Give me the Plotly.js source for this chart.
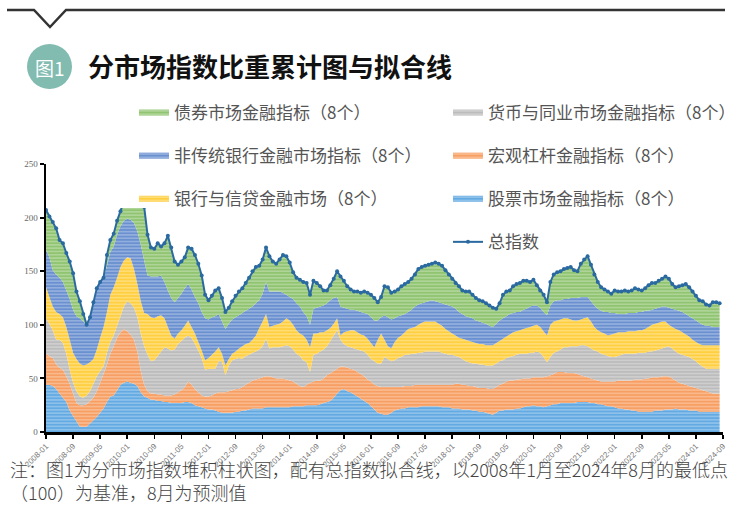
<!DOCTYPE html>
<html><head><meta charset="utf-8">
<script src="https://cdn.plot.ly/plotly-3.0.1.min.js"></script>
<style>html,body{margin:0;padding:0;background:#fff;}#chart{width:745px;height:516px;}</style>
</head><body><div id="chart"></div>
<script>
const tickLabels = ['2008-01','2008-09','2009-05','2010-01','2010-09','2011-05','2012-01','2012-09','2013-05','2014-01','2014-09','2015-05','2016-01','2016-09','2017-05','2018-01','2018-09','2019-05','2020-01','2020-09','2021-05','2022-01','2022-09','2023-05','2024-01','2024-09'];

const seriesNames = {
  stock: '股票市场金融指标（8个）',
  macro: '宏观杠杆金融指标（8个）',
  money: '货币与同业市场金融指标（8个）',
  bank: '银行与信贷金融市场（8个）',
  nonbank: '非传统银行金融市场指标（8个）',
  bond: '债券市场金融指标（8个）',
  total: '总指数'
};

const stock = [44,44,43,40,36,32,28,20,15,10,5,5,5,8,11,14,18,22,28,33,34,39,44,46,47,46,45,43,37,33,32,30,30,29,29,28,28,27,27,27,27,28,28,27,25,24,23,22,21,21,20,19,18,18,18,18,19,19,20,20,21,22,22,22,22,23,23,23,23,23,23,23,23,24,24,24,24,25,25,25,25,26,27,28,29,32,36,39,40,38,37,35,33,31,29,27,24,21,18,17,16,16,18,20,21,22,22,23,23,23,23,24,24,24,24,24,24,23,23,23,22,22,22,21,21,21,20,20,19,19,18,17,16,18,20,20,21,21,21,22,22,23,24,24,25,24,24,23,24,25,26,26,27,27,27,27,27,28,28,28,28,27,27,26,26,25,24,24,23,22,22,21,21,20,20,19,19,19,19,19,20,20,20,21,21,21,22,21,21,21,20,20,20,19,19,19,19,19,19,19];
const macro = [29,27,26,23,24,26,24,25,21,17,20,20,21,21,21,24,28,32,35,40,46,49,49,50,47,45,41,32,20,11,6,6,6,6,6,6,6,7,8,10,12,14,19,17,15,13,11,11,12,13,16,18,19,19,20,21,21,21,22,24,25,26,27,28,29,29,29,28,27,27,27,26,25,23,21,19,18,19,21,22,23,22,23,25,26,25,23,22,21,22,22,23,23,23,23,22,23,23,25,25,26,26,24,22,21,20,21,20,20,21,21,20,20,20,20,20,20,21,21,21,22,23,23,23,23,22,23,22,22,22,23,23,24,24,24,25,26,27,27,27,27,27,26,26,26,27,27,28,28,28,28,30,29,29,28,28,28,26,25,24,23,23,22,22,21,22,23,23,24,26,26,27,27,28,29,30,30,31,31,32,31,31,32,31,31,29,26,25,24,23,23,22,21,21,20,19,18,17,17,17];
const money = [33,30,26,23,26,25,21,13,10,11,8,7,8,9,13,14,11,7,11,11,10,11,15,21,28,29,30,32,35,36,34,30,31,36,40,45,44,42,42,45,46,46,43,44,42,39,35,25,26,25,23,29,29,16,24,28,28,29,26,27,26,26,26,27,29,35,26,28,29,29,30,32,32,30,28,28,25,21,10,25,25,27,27,27,30,33,36,25,21,20,20,20,21,22,23,23,21,22,21,22,28,26,24,25,27,28,29,29,30,29,30,30,31,31,31,31,31,30,29,28,28,26,25,24,22,22,21,22,22,22,21,22,22,22,22,22,22,22,23,23,24,23,23,24,23,24,23,19,13,17,20,19,21,23,24,25,25,26,28,29,29,28,27,27,26,25,24,23,23,23,24,25,25,25,24,25,25,24,25,24,25,26,26,27,28,28,27,27,27,27,27,26,25,23,22,21,22,23,23,23];
const bank = [29,25,22,26,24,24,25,28,28,30,31,30,29,27,23,25,31,37,38,44,45,45,46,43,41,42,36,31,30,31,38,41,39,37,34,27,20,14,10,10,10,11,14,10,10,8,7,9,10,13,16,13,7,9,6,6,7,9,12,11,11,12,15,20,23,23,20,20,21,22,23,25,24,23,22,21,23,21,23,20,19,18,16,15,12,11,11,4,11,14,16,17,16,15,15,15,15,13,22,28,16,12,12,17,19,20,21,24,24,25,26,28,28,28,28,28,26,25,23,22,20,19,18,19,20,20,20,19,19,19,19,19,19,19,19,20,20,21,22,22,22,23,24,24,25,25,24,24,25,30,29,29,28,27,27,25,24,24,24,25,27,25,22,20,20,20,19,21,22,22,21,20,21,21,21,21,21,22,23,25,25,25,25,24,20,20,21,22,21,20,19,18,18,19,20,22,22,22,22,22];
const nonbank = [35,37,34,35,34,33,34,38,40,40,42,41,37,42,50,55,52,45,43,40,38,40,38,37,36,36,43,49,53,49,36,38,39,37,37,34,34,35,34,33,34,35,34,35,34,36,36,39,36,35,33,31,30,34,33,32,32,31,31,31,32,31,30,26,26,30,33,32,31,30,27,22,22,24,25,25,22,22,21,23,24,24,25,25,26,24,20,27,23,21,19,19,20,21,21,23,24,25,18,15,23,27,27,22,20,19,17,16,17,19,19,18,18,19,20,19,20,21,23,24,25,25,24,23,22,22,22,21,21,20,20,18,17,18,19,19,19,19,18,18,17,18,18,19,19,18,18,18,19,18,19,19,18,18,18,20,21,21,21,20,19,19,20,20,20,20,22,20,19,17,17,17,17,17,17,17,17,17,15,14,14,14,14,14,16,17,18,18,19,19,19,20,20,20,19,18,18,17,17,17];
const bond = [37,38,45,43,35,36,35,35,34,23,16,7,0,0,3,2,0,1,10,11,12,13,14,18,36,26,25,31,40,50,38,27,26,31,27,36,51,47,38,31,30,29,34,38,39,37,34,22,18,20,24,24,22,16,15,17,20,22,23,26,29,33,34,32,32,32,33,28,26,30,35,36,32,25,24,25,28,31,28,26,23,19,14,12,14,18,24,28,25,21,19,17,18,18,20,20,21,21,17,19,27,28,25,25,25,27,28,28,29,30,33,34,34,34,34,36,36,35,32,29,26,24,24,22,23,24,22,21,20,20,19,19,18,14,16,22,23,22,25,26,27,27,26,23,24,19,16,16,12,22,25,26,27,28,29,29,26,25,31,35,38,34,29,25,22,21,19,18,21,21,21,22,20,21,23,21,20,21,24,25,24,25,26,28,27,23,21,23,25,28,27,25,23,21,22,20,19,23,23,22];
const total = [207,201,196,190,179,176,167,159,148,131,122,110,100,107,121,134,140,144,165,179,185,197,206,215,235,224,220,218,215,210,184,172,171,176,173,176,183,172,159,156,159,163,172,171,165,157,146,128,123,127,132,134,125,112,116,122,127,131,134,139,144,150,154,155,161,172,164,159,157,161,165,164,158,149,144,142,140,139,128,141,139,136,132,132,137,143,150,145,141,136,133,131,131,130,131,130,128,125,121,126,136,135,130,131,133,136,138,140,143,147,152,154,155,156,157,158,157,155,151,147,143,139,136,132,131,131,128,125,123,122,120,118,116,115,120,128,131,132,136,138,139,141,141,140,142,137,132,128,121,140,147,149,150,152,153,154,151,150,157,161,164,156,147,140,135,133,131,129,132,131,131,132,131,132,134,133,132,134,137,139,139,141,143,145,143,138,135,136,137,138,135,131,127,123,122,119,118,121,121,120];

// month position index (months since 2008-01)
const monthPos = total.map((_, i) => i);
const labelPos = tickLabels.map(s => (parseInt(s.slice(0,4)) - 2008) * 12 + parseInt(s.slice(5,7)) - 1);

// geometry helpers (page px -> paper)
const W = 745, H = 516, L = 46, R = 22, T = 164, B = 84;
const pw = W - L - R, ph = H - T - B;
const px = x => (x - L) / pw;
const py = y => (H - B - y) / ph;

function area(values, key, color, legend, rank) {
  return {
    type: 'scatter', x: monthPos, y: values, name: seriesNames[key],
    stackgroup: 'one', mode: 'none', fillcolor: color,
    fillpattern: {shape: '-', size: 3.3, solidity: 0.3, fgcolor: 'rgba(255,255,255,0.45)', bgcolor: color},
    legend: legend, legendrank: rank, legendgroup: key, hoverinfo: 'skip'
  };
}

const data = [
  area(stock, 'stock', '#63aae2', 'legend2', 3),
  area(macro, 'macro', '#f79f63', 'legend2', 2),
  area(money, 'money', '#bcbcbc', 'legend2', 1),
  area(bank, 'bank', '#ffcf40', 'legend', 3),
  area(nonbank, 'nonbank', '#6a90d0', 'legend', 2),
  area(bond, 'bond', '#90c470', 'legend', 1),
  {type: 'scatter', x: monthPos, y: total, name: seriesNames.total, mode: 'lines+markers',
   line: {color: '#2a6aa0', width: 2}, marker: {color: '#2a6aa0', size: 4, symbol: 'circle'},
   legend: 'legend2', legendrank: 4, legendgroup: 'total', hoverinfo: 'skip'}
];

const legendFont = {family: 'Noto Sans CJK SC', size: 17, color: '#555'};
const noteFont = {family: 'Noto Sans CJK SC', size: 18, color: '#444', weight: 300};
const layout = {
  width: W, height: H,
  margin: {l: L, r: R, t: T, b: B, pad: 0, autoexpand: false},
  paper_bgcolor: '#fff', plot_bgcolor: '#fff',
  showlegend: true,
  title: {text: '<b>分市场指数比重累计图与拟合线</b>', font: {family: 'Noto Sans CJK SC', size: 26, color: '#111'},
          x: 88 / W, xanchor: 'left', xref: 'container', y: 1 - 68 / H, yanchor: 'middle', yref: 'container'},
  xaxis: {range: [0, 200], tickvals: labelPos, ticktext: tickLabels, tickangle: -45, automargin: false,
          tickfont: {family: 'Liberation Sans', size: 8, color: '#777'},
          ticks: 'outside', ticklen: 4, tickwidth: 1.5, tickcolor: '#000',
          showline: true, linecolor: '#000', linewidth: 2.5, showgrid: false, zeroline: false, fixedrange: true},
  yaxis: {range: [0, 250], tickvals: [0, 50, 100, 150, 200, 250], automargin: false,
          tickfont: {family: 'Liberation Serif', size: 9, color: '#666'},
          ticks: 'outside', ticklen: 4, tickwidth: 2, tickcolor: '#000',
          showline: true, linecolor: '#000', linewidth: 2.5, showgrid: false, zeroline: false, fixedrange: true},
  legend: {x: px(134), y: py(95), xanchor: 'left', yanchor: 'top', bgcolor: 'rgba(255,255,255,0)', borderwidth: 0,
           font: legendFont, traceorder: 'grouped', tracegroupgap: 18},
  legend2: {x: px(448), y: py(95), xanchor: 'left', yanchor: 'top', bgcolor: 'rgba(255,255,255,0)', borderwidth: 0,
           font: legendFont, traceorder: 'grouped', tracegroupgap: 18},
  shapes: [
    {type: 'path', xref: 'paper', yref: 'paper',
     path: `M ${px(7)},${py(10)} L ${px(34)},${py(10)} L ${px(50)},${py(27)} L ${px(66)},${py(10)} L ${px(725)},${py(10)}`,
     line: {color: '#333', width: 2.5}},
    {type: 'circle', xref: 'paper', yref: 'paper', x0: px(27), x1: px(72), y0: py(89), y1: py(44),
     fillcolor: '#82bbb0', line: {width: 0}},
    // white legend panel that masks the top of the plot, as in the original
    {type: 'rect', xref: 'paper', yref: 'paper', layer: 'above', x0: px(115), x1: px(380), y0: py(208), y1: py(96),
     fillcolor: '#fff', line: {width: 0}}
  ],
  annotations: [
    {text: '图1', xref: 'paper', yref: 'paper', x: px(49.5), y: py(67), showarrow: false,
     font: {family: 'Noto Sans CJK SC', size: 19, color: '#fff'}, xanchor: 'center', yanchor: 'middle'},
    {text: '注：图1为分市场指数堆积柱状图，配有总指数拟合线，以2008年1月至2024年8月的最低点<br>（100）为基准，8月为预测值',
     xref: 'paper', yref: 'paper', x: px(8), y: py(480), showarrow: false, align: 'left',
     xanchor: 'left', yanchor: 'middle', font: noteFont}
  ]
};

Plotly.newPlot('chart', data, layout, {displayModeBar: false, staticPlot: true});
</script></body></html>
